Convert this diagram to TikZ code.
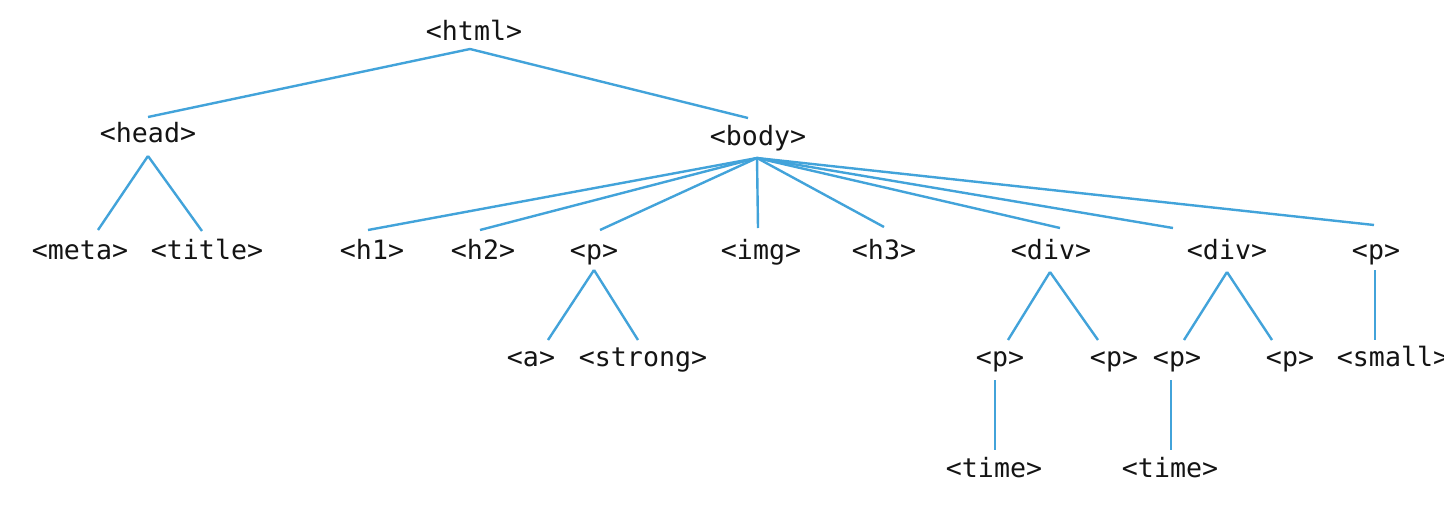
\documentclass[tikz,border=0pt]{standalone}
\usepackage{fontspec}
\setmonofont{DejaVu Sans Mono}
\definecolor{edgeblue}{RGB}{66,163,218}
\definecolor{txt}{RGB}{20,20,20}
\tikzset{
  tag/.style={anchor=base, inner sep=0pt, font=\ttfamily\fontsize{13.3}{14}\selectfont, text=txt},
  link/.style={draw=edgeblue, line width=1.2pt}
}
\begin{document}
\begin{tikzpicture}[x=0.5pt,y=-0.5pt]
\useasboundingbox (0,0) rectangle (1444,520);
\clip (0,0) rectangle (1444,520);
\fill[white] (0,0) rectangle (1444,520);
% nodes (base points)
\node[tag] (html) at (474,40) {<html>};
\node[tag] (head) at (148,142) {<head>};
\node[tag] (body) at (758,145) {<body>};
\node[tag] (meta) at (80,259) {<meta>};
\node[tag] (title) at (207,259) {<title>};
\node[tag] (h1) at (372,259) {<h1>};
\node[tag] (h2) at (483,259) {<h2>};
\node[tag] (p1) at (594,259) {<p>};
\node[tag] (img) at (761,259) {<img>};
\node[tag] (h3) at (884,259) {<h3>};
\node[tag] (div1) at (1051,259) {<div>};
\node[tag] (div2) at (1227,259) {<div>};
\node[tag] (p2) at (1376,259) {<p>};
\node[tag] (a) at (531,366) {<a>};
\node[tag] (strong) at (643,366) {<strong>};
\node[tag] (pA) at (1000,366) {<p>};
\node[tag] (pB) at (1114,366) {<p>};
\node[tag] (pC) at (1177,366) {<p>};
\node[tag] (pD) at (1290,366) {<p>};
\node[tag] (small) at (1393,366) {<small>};
\node[tag] (timeA) at (994,477) {<time>};
\node[tag] (timeB) at (1170,477) {<time>};
% connectors
\draw[link] ([shift={(-4,9)}]html.base) -- ([shift={(0,-25)}]head.base);
\draw[link] ([shift={(-4,9)}]html.base) -- ([shift={(-10,-27)}]body.base);
\draw[link] ([shift={(0,14)}]head.base) -- ([shift={(18,-29)}]meta.base);
\draw[link] ([shift={(0,14)}]head.base) -- ([shift={(-5,-28)}]title.base);
\draw[link] ([shift={(-1,13)}]body.base) -- ([shift={(-4,-29)}]h1.base);
\draw[link] ([shift={(-1,13)}]body.base) -- ([shift={(-3,-29)}]h2.base);
\draw[link] ([shift={(-1,13)}]body.base) -- ([shift={(6,-29)}]p1.base);
\draw[link] ([shift={(-1,13)}]body.base) -- ([shift={(-3,-31)}]img.base);
\draw[link] ([shift={(-1,13)}]body.base) -- ([shift={(0,-32)}]h3.base);
\draw[link] ([shift={(-1,13)}]body.base) -- ([shift={(9,-31)}]div1.base);
\draw[link] ([shift={(-1,13)}]body.base) -- ([shift={(-54,-31)}]div2.base);
\draw[link] ([shift={(-1,13)}]body.base) -- ([shift={(-2,-34)}]p2.base);
\draw[link] ([shift={(0,11)}]p1.base) -- ([shift={(17,-26)}]a.base);
\draw[link] ([shift={(0,11)}]p1.base) -- ([shift={(-5,-26)}]strong.base);
\draw[link] ([shift={(-1,13)}]div1.base) -- ([shift={(8,-26)}]pA.base);
\draw[link] ([shift={(-1,13)}]div1.base) -- ([shift={(-16,-26)}]pB.base);
\draw[link] ([shift={(0,13)}]div2.base) -- ([shift={(7,-26)}]pC.base);
\draw[link] ([shift={(0,13)}]div2.base) -- ([shift={(-18,-26)}]pD.base);
\draw[link] ([shift={(-1,11)}]p2.base) -- ([shift={(-18,-26)}]small.base);
\draw[link] ([shift={(-5,14)}]pA.base) -- ([shift={(1,-27)}]timeA.base);
\draw[link] ([shift={(-6,14)}]pC.base) -- ([shift={(1,-27)}]timeB.base);
\end{tikzpicture}
\end{document}
